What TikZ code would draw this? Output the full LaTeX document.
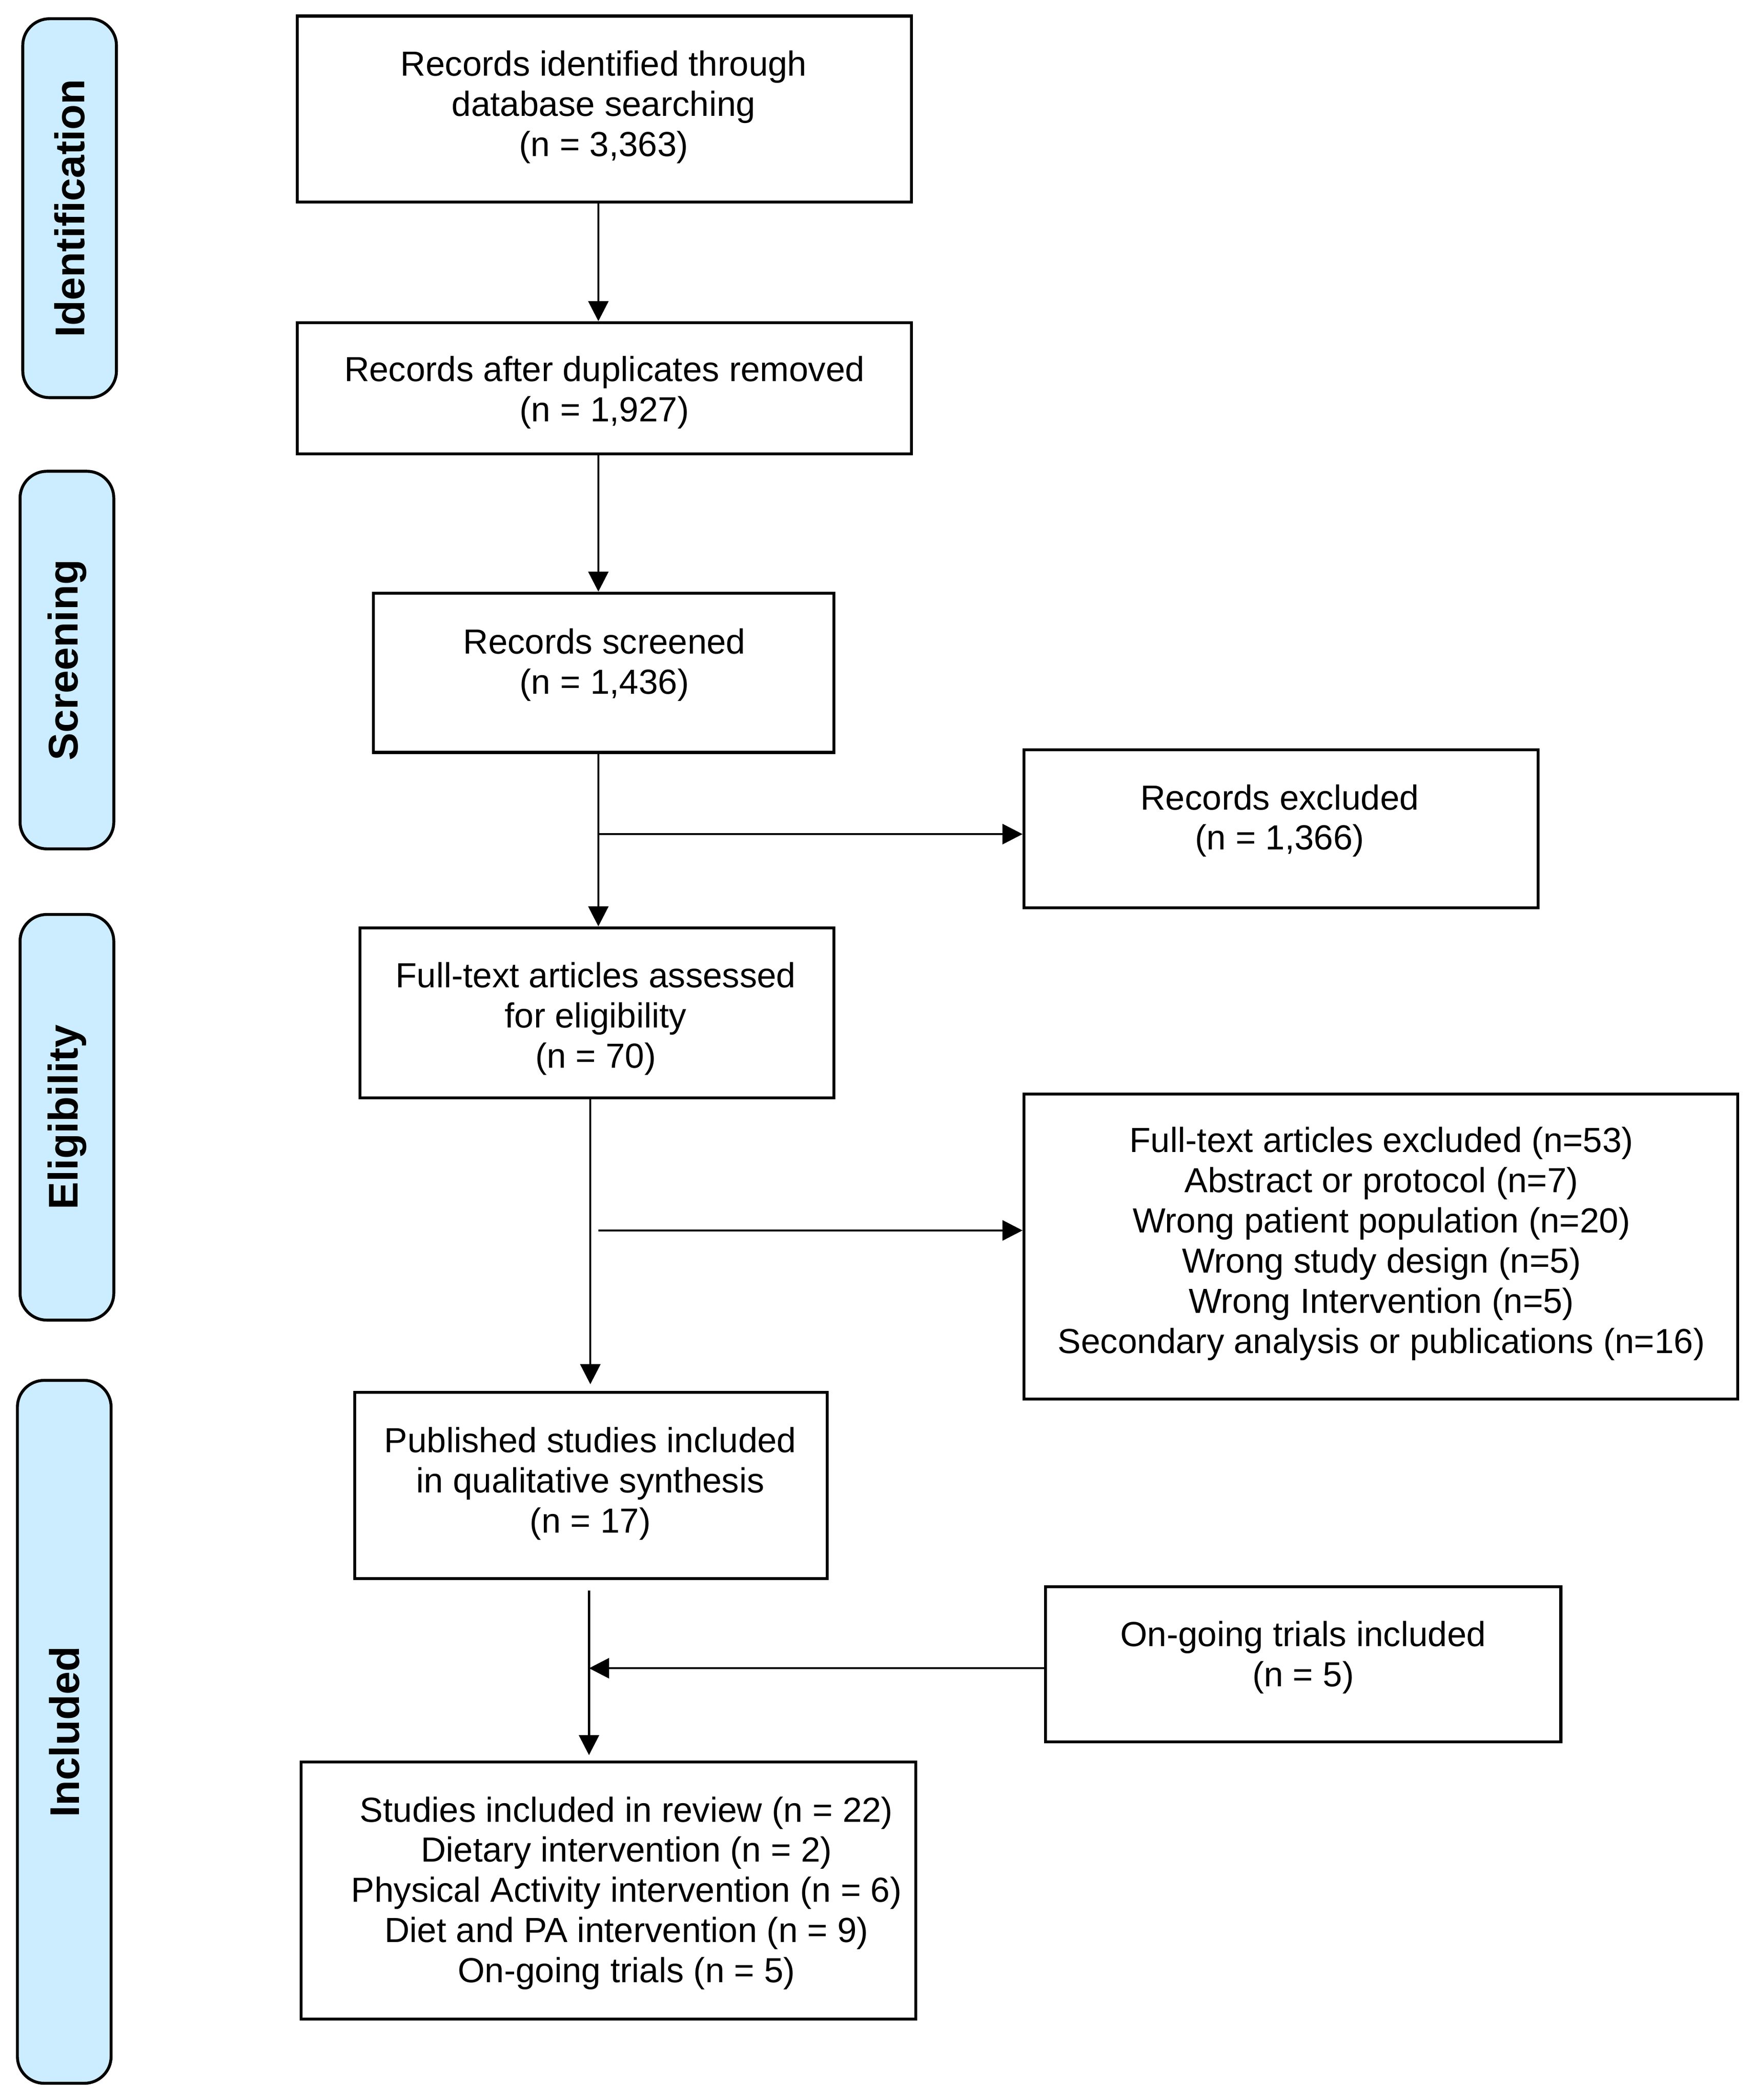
\documentclass[tikz,border=0pt]{standalone}
\usepackage{fontspec}
\setmainfont{Liberation Sans}
\usetikzlibrary{arrows.meta}
\definecolor{sideblue}{RGB}{204,236,255}
\begin{document}
\begin{tikzpicture}[x=1pt,y=-1pt,
  box/.style={draw=black, line width=2.2pt, inner sep=0pt, fill=white},
  txt/.style={align=center, font=\fontsize{26}{30}\selectfont, inner sep=0pt},
  side/.style={draw=black, line width=2.2pt, fill=sideblue, rounded corners=20pt, rotate=90,
    font=\fontsize{31}{36}\selectfont\bfseries, inner sep=0pt, minimum height=70pt},
  arr/.style={line width=1.6pt, -{Triangle[length=15pt,width=15pt]}}]
\useasboundingbox (0,0) rectangle (1310,1568.5);

% side labels
\node[side, minimum width=283pt] (s1) at (52,155.5) {Identification};
\node[side, minimum width=282pt] (s2) at (50,493) {Screening};
\node[side, minimum width=303pt] (s3) at (50,834.5) {Eligibility};
\node[side, minimum width=525pt] (s4) at (48,1293.5) {Included};

% boxes
\node[box, minimum width=459pt, minimum height=139pt] (b1) at (451.5,81.5) {};
\node[box, minimum width=459pt, minimum height=98pt]  (b2) at (451.5,290) {};
\node[box, minimum width=344pt, minimum height=119pt] (b3) at (451,502.5) {};
\node[box, minimum width=384pt, minimum height=118pt] (b4) at (957,619) {};
\node[box, minimum width=354pt, minimum height=127pt] (b5) at (446,756.5) {};
\node[box, minimum width=533pt, minimum height=228pt] (b6) at (1031.5,931) {};
\node[box, minimum width=353pt, minimum height=139pt] (b7) at (441.5,1109.5) {};
\node[box, minimum width=385pt, minimum height=116pt] (b8) at (973.5,1243) {};
\node[box, minimum width=459pt, minimum height=192pt] (b9) at (454.5,1412) {};

% texts
\node[txt] (t1) at (451,80) {Records identified through\\database searching\\(n = 3,363)};
\node[txt] (t2) at (451.5,293) {Records after duplicates removed\\(n = 1,927)};
\node[txt] (t3) at (451.5,496.5) {Records screened\\(n = 1,436)};
\node[txt] (t4) at (956,613) {Records excluded\\(n = 1,366)};
\node[txt] (t5) at (445,761) {Full-text articles assessed\\for eligibility\\(n = 70)};
\node[txt] (t6) at (1032,929) {Full-text articles excluded (n=53)\\Abstract or protocol (n=7)\\Wrong patient population (n=20)\\Wrong study design (n=5)\\Wrong Intervention (n=5)\\Secondary analysis or publications (n=16)};
\node[txt] (t7) at (441,1108) {Published studies included\\in qualitative synthesis\\(n = 17)};
\node[txt] (t8) at (973.5,1238) {On-going trials included\\(n = 5)};
\node[txt] (t9) at (468,1414) {Studies included in review (n = 22)\\Dietary intervention (n = 2)\\Physical Activity intervention (n = 6)\\Diet and PA intervention (n = 9)\\On-going trials (n = 5)};

% connector guide coordinates
\coordinate (xa) at (447,0);
\coordinate (xb) at (441,0);
\coordinate (xc) at (440,0);
\coordinate (j1) at (447,623);
\coordinate (j2) at (447,919);
\coordinate (j3) at (440,1246);

\draw[arr] (xa |- b1.south) -- (xa |- b2.north);
\draw[arr] (xa |- b2.south) -- (xa |- b3.north);
\draw[arr] (xa |- b3.south) -- (xa |- b5.north);
\draw[arr] (j1) -- (j1 -| b4.west);
\draw[arr, shorten >=5pt] (xb |- b5.south) -- (xb |- b7.north);
\draw[arr] (j2) -- (j2 -| b6.west);
\draw[arr, shorten <=8pt, shorten >=4pt] (xc |- b7.south) -- (xc |- b9.north);
\draw[arr] (j3 -| b8.west) -- (j3);
\end{tikzpicture}
\end{document}
